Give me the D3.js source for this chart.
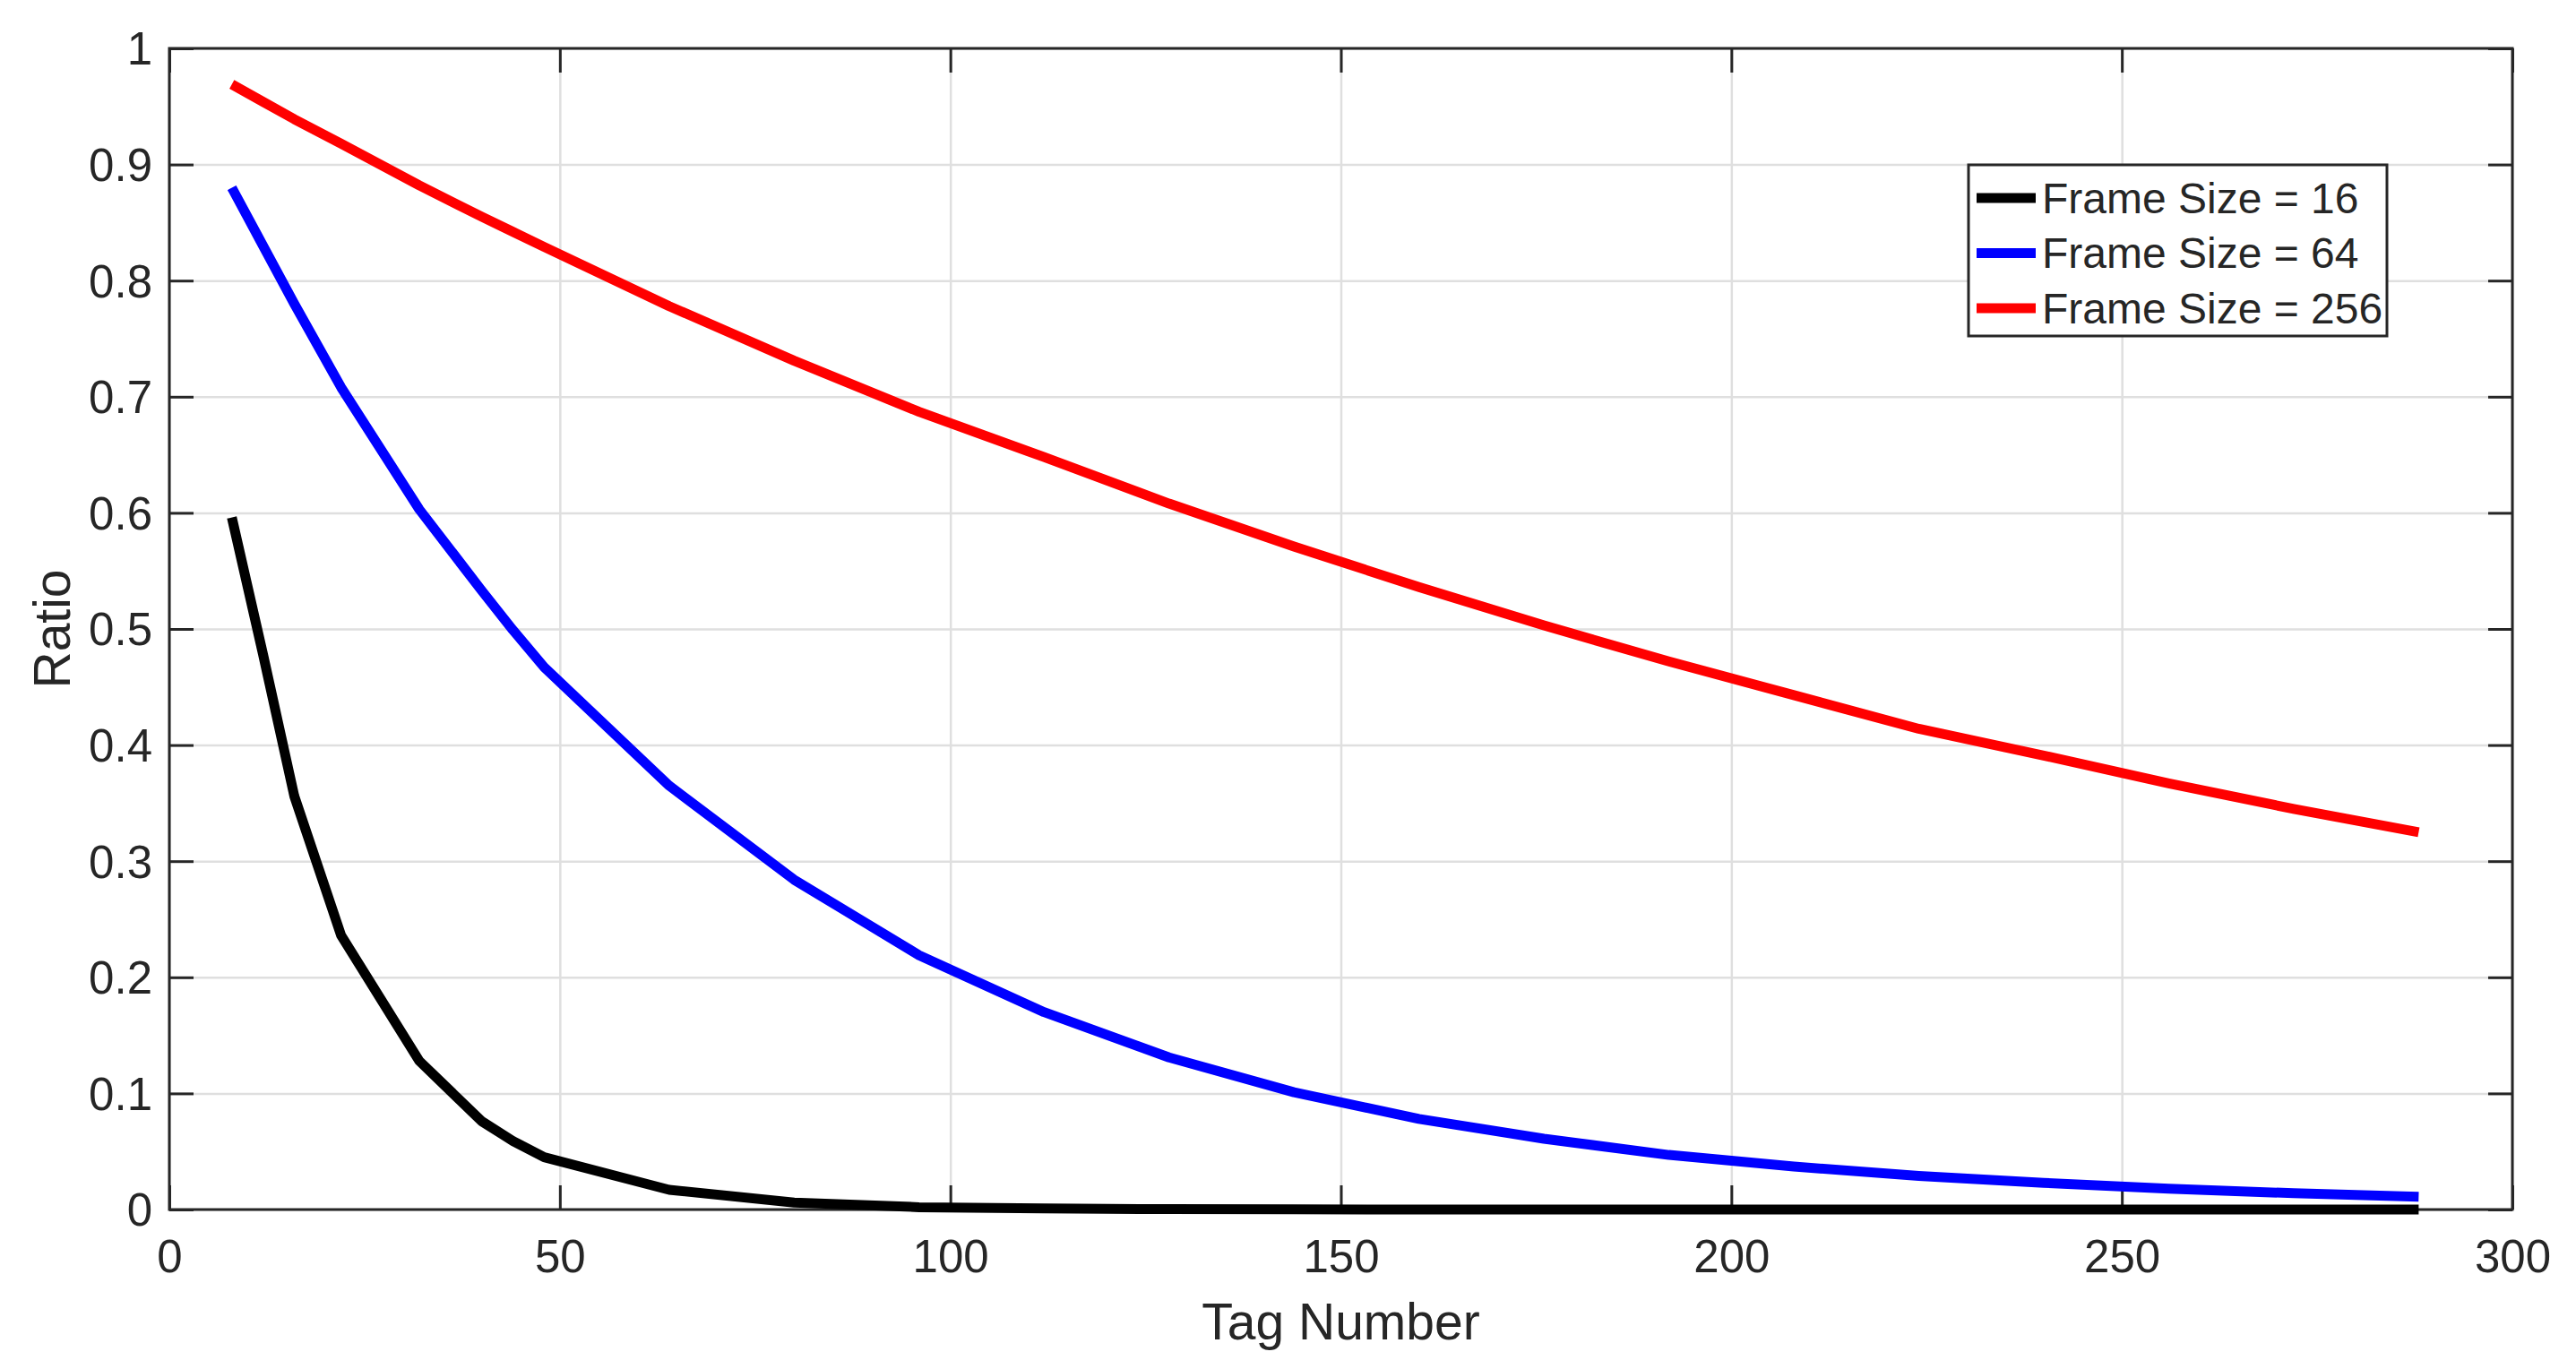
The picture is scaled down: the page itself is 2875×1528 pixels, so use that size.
<!DOCTYPE html>
<html>
<head>
<meta charset="utf-8">
<script src="https://cdn.jsdelivr.net/npm/d3@7"></script>
<style>
  body { margin: 0; background: #fff; }
  svg text { font-family: "Liberation Sans", Arial, Helvetica, sans-serif; fill: #262626; }
</style>
</head>
<body>
<div id="chart"></div>
<script>
// Data
const tagNumbers = [8, 12, 16, 22, 32, 40, 44, 48, 64, 80, 96, 112, 128, 144, 160, 176, 192, 208, 224, 240, 256, 272, 288]
const frame16 = [0.596, 0.478, 0.356, 0.236, 0.128, 0.076, 0.059, 0.045, 0.017, 0.006, 0.002, 0.001, 0.0003, 0.0001, 0, 0, 0, 0, 0, 0, 0, 0, 0]
const frame64 = [0.880, 0.830, 0.780, 0.708, 0.603, 0.533, 0.499, 0.467, 0.365, 0.284, 0.219, 0.170, 0.131, 0.101, 0.078, 0.061, 0.047, 0.037, 0.029, 0.023, 0.018, 0.014, 0.011]
const frame256 = [0.969, 0.954, 0.939, 0.918, 0.882, 0.855, 0.842, 0.829, 0.778, 0.731, 0.687, 0.648, 0.608, 0.571, 0.536, 0.503, 0.472, 0.443, 0.414, 0.391, 0.367, 0.345, 0.325]
const seriesNames = ['Frame Size = 16', 'Frame Size = 64', 'Frame Size = 256']
const xTicks = [0, 50, 100, 150, 200, 250, 300]
const yTicks = [0, 0.1, 0.2, 0.3, 0.4, 0.5, 0.6, 0.7, 0.8, 0.9, 1]

const seriesValues = [frame16, frame64, frame256]
const colors = ['#000000', '#0000ff', '#ff0000']

// Layout
const width = 2875
const height = 1528
const margin = { left: 189, right: 71, top: 54, bottom: 178 }
const innerW = width - margin.left - margin.right
const innerH = height - margin.top - margin.bottom
const tickLen = 27
const axisColor = '#262626'

const svg = d3.select('#chart')
    .append('svg')
    .attr('width', width)
    .attr('height', height)

svg.append('rect')
    .attr('width', width)
    .attr('height', height)
    .attr('fill', '#fff')

const g = svg.append('g')
    .attr('transform', `translate(${margin.left},${margin.top})`)

// Scales
const xScale = d3.scaleLinear().domain([0, 300]).range([0, innerW])
const yScale = d3.scaleLinear().domain([0, 1]).range([innerH, 0])

// Grid lines
const xGrid = g.append('g')
    .attr('transform', `translate(0,${innerH})`)
    .call(d3.axisBottom(xScale).tickValues(xTicks).tickSize(-innerH).tickFormat(''))
const yGrid = g.append('g')
    .call(d3.axisLeft(yScale).tickValues(yTicks).tickSize(-innerW).tickFormat(''))
;[xGrid, yGrid].forEach(grid => {
    grid.select('.domain').remove()
    grid.selectAll('line').attr('stroke', '#dfdfdf').attr('stroke-width', 2.5)
})

// Axes (ticks pointing inward, box style)
const xAxis = g.append('g')
    .attr('transform', `translate(0,${innerH})`)
    .call(d3.axisBottom(xScale).tickValues(xTicks).tickSizeInner(-tickLen).tickSizeOuter(0).tickPadding(34).tickFormat(d3.format('d')))
const yAxis = g.append('g')
    .call(d3.axisLeft(yScale).tickValues(yTicks).tickSizeInner(-tickLen).tickSizeOuter(0).tickPadding(19).tickFormat(d => d === 0 || d === 1 ? String(d) : d3.format('.1f')(d)))
const xTop = g.append('g')
    .call(d3.axisTop(xScale).tickValues(xTicks).tickSizeInner(-tickLen).tickSizeOuter(0).tickFormat(''))
const yRight = g.append('g')
    .attr('transform', `translate(${innerW},0)`)
    .call(d3.axisRight(yScale).tickValues(yTicks).tickSizeInner(-tickLen).tickSizeOuter(0).tickFormat(''))

;[xAxis, yAxis, xTop, yRight].forEach(ax => {
    ax.select('.domain').remove()
    ax.selectAll('line').attr('stroke', axisColor).attr('stroke-width', 3)
    ax.selectAll('text')
        .attr('font-size', 51)
        .attr('font-family', '"Liberation Sans", Arial, sans-serif')
        .attr('fill', axisColor)
})
yAxis.selectAll('text').attr('dy', '0.35em')

// Box
g.append('rect')
    .attr('width', innerW)
    .attr('height', innerH)
    .attr('fill', 'none')
    .attr('stroke', axisColor)
    .attr('stroke-width', 3)

// Axis titles
svg.append('text')
    .attr('x', margin.left + innerW / 2)
    .attr('y', 1495)
    .attr('text-anchor', 'middle')
    .attr('font-size', 57)
    .text('Tag Number')

svg.append('text')
    .attr('transform', `translate(78,${margin.top + innerH / 2}) rotate(-90)`)
    .attr('text-anchor', 'middle')
    .attr('font-size', 57)
    .text('Ratio')

// Lines
const line = d3.line()
    .x((d, i) => xScale(tagNumbers[i]))
    .y(d => yScale(d))

seriesValues.forEach((vals, k) => {
    g.append('path')
        .datum(vals)
        .attr('d', line)
        .attr('fill', 'none')
        .attr('stroke', colors[k])
        .attr('stroke-width', 11)
        .attr('stroke-linejoin', 'round')
        .attr('stroke-linecap', 'butt')
})

// Legend
const legend = svg.append('g')
    .attr('transform', 'translate(2197,184)')

legend.append('rect')
    .attr('width', 467)
    .attr('height', 191)
    .attr('fill', '#fff')
    .attr('stroke', axisColor)
    .attr('stroke-width', 3)

seriesNames.forEach((name, k) => {
    const rowY = 37 + k * 61.5
    legend.append('line')
        .attr('x1', 9)
        .attr('x2', 75)
        .attr('y1', rowY)
        .attr('y2', rowY)
        .attr('stroke', colors[k])
        .attr('stroke-width', 11)
    legend.append('text')
        .attr('x', 82)
        .attr('y', rowY)
        .attr('dy', '0.35em')
        .attr('font-size', 48)
        .attr('fill', '#000')
        .text(name)
})
</script>
</body>
</html>
